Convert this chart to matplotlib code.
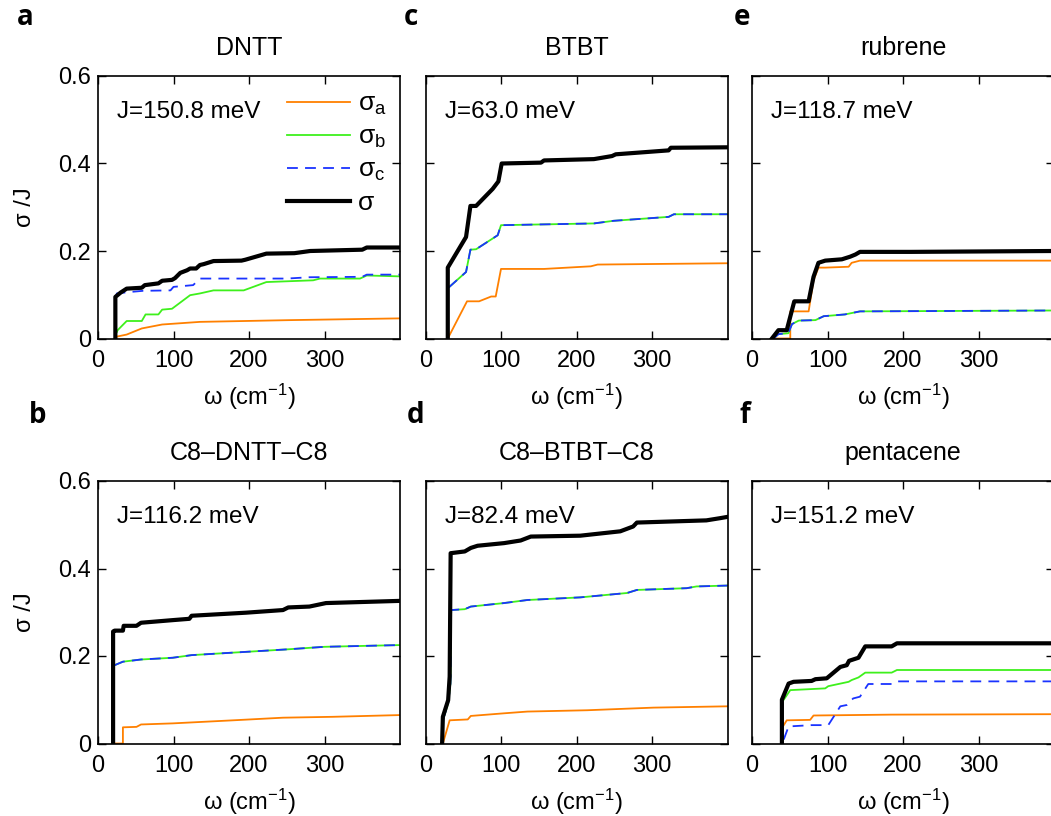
import matplotlib
matplotlib.use("Agg")
import matplotlib.pyplot as plt

plt.rcParams['font.family'] = ['Liberation Sans', 'DejaVu Sans']
plt.rcParams['mathtext.fontset'] = 'custom'
plt.rcParams['mathtext.rm'] = 'Liberation Sans'
plt.rcParams['mathtext.it'] = 'Liberation Sans:italic'
plt.rcParams['mathtext.bf'] = 'Liberation Sans:bold'

# ---------------- data ----------------
titles = ["DNTT", "C8–DNTT–C8", "BTBT", "C8–BTBT–C8", "rubrene", "pentacene"]
letters = ["a", "b", "c", "d", "e", "f"]
J_labels = ["J=150.8 meV", "J=116.2 meV", "J=63.0 meV", "J=82.4 meV", "J=118.7 meV", "J=151.2 meV"]
series_labels = ["σ$_{\\mathrm{a}}$", "σ$_{\\mathrm{b}}$", "σ$_{\\mathrm{c}}$", "σ"]
x_ticks = [0, 100, 200, 300]
y_ticks = [0, 0.2, 0.4, 0.6]
y_tick_labels = ["0", "0.2", "0.4", "0.6"]

# a: DNTT
a_sig_x = [23, 23, 30, 38, 58, 62, 80, 85, 98, 102, 109, 118, 122, 130, 135, 140, 153, 190, 195, 223, 260, 281, 350, 356, 400]
a_sig_y = [0, 0.095, 0.105, 0.114, 0.116, 0.122, 0.126, 0.132, 0.134, 0.138, 0.150, 0.156, 0.160, 0.160, 0.168, 0.170, 0.177, 0.178, 0.180, 0.194, 0.195, 0.200, 0.203, 0.208, 0.208]
a_sc_x = [24, 25, 40, 60, 96, 100, 126, 135, 250, 280, 350, 356, 400]
a_sc_y = [0.098, 0.103, 0.106, 0.109, 0.110, 0.118, 0.122, 0.137, 0.137, 0.140, 0.141, 0.146, 0.146]
a_sb_x = [25, 26, 38, 58, 63, 80, 85, 98, 122, 135, 153, 193, 223, 285, 294, 347, 356, 400]
a_sb_y = [0.015, 0.019, 0.040, 0.040, 0.055, 0.055, 0.066, 0.068, 0.099, 0.103, 0.110, 0.110, 0.129, 0.133, 0.137, 0.137, 0.144, 0.142]
a_sa_x = [24, 38, 58, 85, 135, 254, 400]
a_sa_y = [0.004, 0.009, 0.023, 0.032, 0.038, 0.042, 0.046]

# b: C8-DNTT-C8
b_sig_x = [20, 20, 22, 33, 34, 51, 57, 99, 121, 124, 196, 245, 252, 280, 302, 400]
b_sig_y = [0, 0.256, 0.258, 0.258, 0.269, 0.269, 0.276, 0.282, 0.285, 0.292, 0.299, 0.305, 0.311, 0.313, 0.321, 0.326]
b_sbc_x = [22, 33, 57, 99, 124, 201, 249, 300, 400]
b_sbc_y = [0.179, 0.187, 0.192, 0.196, 0.202, 0.210, 0.215, 0.221, 0.225]
b_sa_x = [20, 33, 33, 51, 57, 99, 179, 245, 311, 400]
b_sa_y = [0, 0, 0.037, 0.038, 0.0435, 0.046, 0.053, 0.059, 0.061, 0.065]

# c: BTBT
c_sig_x = [29.5, 29.5, 53.7, 59.5, 67, 89, 96.5, 100.9, 153, 157, 223, 247, 252, 322, 325, 400]
c_sig_y = [0, 0.162, 0.232, 0.303, 0.303, 0.342, 0.359, 0.400, 0.402, 0.407, 0.410, 0.417, 0.421, 0.430, 0.436, 0.437]
c_sbc_x = [31, 53.7, 59.5, 67, 95.6, 100, 223, 249, 322, 329, 400]
c_sbc_y = [0.117, 0.152, 0.203, 0.204, 0.236, 0.259, 0.263, 0.269, 0.278, 0.284, 0.284]
c_sa_x = [29.5, 55, 71, 87, 93, 100, 157, 219, 228, 400]
c_sa_y = [0, 0.085, 0.085, 0.096, 0.096, 0.159, 0.159, 0.165, 0.169, 0.172]

# d: C8-BTBT-C8
d_sig_x = [22, 23, 30, 32, 33.3, 52, 60, 69, 104, 126, 139.5, 205, 258, 275, 280, 372, 390, 400]
d_sig_y = [0, 0.061, 0.099, 0.153, 0.435, 0.439, 0.447, 0.452, 0.458, 0.464, 0.473, 0.475, 0.485, 0.496, 0.505, 0.510, 0.515, 0.518]
d_sbc_x = [23, 30, 33, 34, 52, 60, 104, 135, 205, 267, 280, 346, 359, 400]
d_sbc_y = [0.053, 0.092, 0.137, 0.305, 0.307, 0.313, 0.321, 0.328, 0.334, 0.344, 0.351, 0.355, 0.359, 0.361]
d_sa_x = [23, 32, 56, 60, 104, 135, 214, 302, 400]
d_sa_y = [0, 0.053, 0.055, 0.063, 0.069, 0.073, 0.076, 0.082, 0.085]

# e: rubrene
e_sig_x = [26.4, 35, 46, 51, 56, 75, 81.5, 88, 97, 119, 130, 137, 143, 211, 400]
e_sig_y = [0, 0.019, 0.019, 0.052, 0.085, 0.085, 0.141, 0.173, 0.178, 0.181, 0.187, 0.192, 0.198, 0.198, 0.200]
e_sbc_x = [28.6, 35, 48, 53, 62, 84, 95, 123, 143, 400]
e_sbc_y = [0, 0.010, 0.012, 0.033, 0.041, 0.042, 0.051, 0.055, 0.062, 0.064]
e_sa_x = [26, 50.7, 50.7, 75, 81.5, 88, 97, 128, 132, 143, 400]
e_sa_y = [0, 0, 0.062, 0.062, 0.133, 0.162, 0.162, 0.164, 0.173, 0.178, 0.178]

# f: pentacene
f_sig_x = [39.6, 39.6, 48.5, 55, 79, 84, 99, 117, 125.5, 128.6, 141, 150, 185, 192, 400]
f_sig_y = [0, 0.100, 0.137, 0.141, 0.143, 0.147, 0.149, 0.175, 0.179, 0.189, 0.196, 0.222, 0.222, 0.229, 0.229]
f_sb_x = [42, 50.7, 97, 101, 128, 132, 141, 150, 185, 192, 400]
f_sb_y = [0.100, 0.122, 0.126, 0.131, 0.141, 0.145, 0.151, 0.162, 0.162, 0.168, 0.168]
f_sc_x = [42, 48.5, 79, 101, 117, 125.5, 134, 143, 154, 185, 192, 400]
f_sc_y = [0.009, 0.039, 0.042, 0.042, 0.085, 0.088, 0.103, 0.107, 0.136, 0.136, 0.142, 0.142]
f_sa_x = [41, 46, 77, 81.5, 185, 400]
f_sa_y = [0.039, 0.053, 0.054, 0.064, 0.066, 0.067]

panels = [
    dict(sa=(a_sa_x, a_sa_y), sb=(a_sb_x, a_sb_y), sc=(a_sc_x, a_sc_y), s=(a_sig_x, a_sig_y)),
    dict(sa=(b_sa_x, b_sa_y), sb=(b_sbc_x, b_sbc_y), sc=(b_sbc_x, b_sbc_y), s=(b_sig_x, b_sig_y)),
    dict(sa=(c_sa_x, c_sa_y), sb=(c_sbc_x, c_sbc_y), sc=(c_sbc_x, c_sbc_y), s=(c_sig_x, c_sig_y)),
    dict(sa=(d_sa_x, d_sa_y), sb=(d_sbc_x, d_sbc_y), sc=(d_sbc_x, d_sbc_y), s=(d_sig_x, d_sig_y)),
    dict(sa=(e_sa_x, e_sa_y), sb=(e_sbc_x, e_sbc_y), sc=(e_sbc_x, e_sbc_y), s=(e_sig_x, e_sig_y)),
    dict(sa=(f_sa_x, f_sa_y), sb=(f_sb_x, f_sb_y), sc=(f_sc_x, f_sc_y), s=(f_sig_x, f_sig_y)),
]

# ---------------- styling / layout ----------------
W, H = 1051, 816
C_A, C_B, C_C, C_S = '#ff8000', '#3ef01c', '#1a33ff', 'black'
lefts = [98, 98, 425.5, 425.5, 752, 752]
tops = [76, 481, 76, 481, 76, 481]
AW, AH = 302, 262.5
letter_pos = [(25.5, 25), (37.5, 423), (411, 25), (415.5, 423), (742, 25), (745, 423)]

fig = plt.figure(figsize=(W / 100, H / 100), dpi=100)

for i in range(6):
    l, t = lefts[i], tops[i]
    ax = fig.add_axes([l / W, 1 - (t + AH) / H, AW / W, AH / H])
    p = panels[i]
    ax.plot(*p['sa'], color=C_A, lw=1.3, label=series_labels[0])
    ax.plot(*p['sb'], color=C_B, lw=1.3, label=series_labels[1])
    ax.plot(*p['sc'], color=C_C, lw=1.3, ls=(0, (6, 4)), label=series_labels[2])
    ax.plot(*p['s'], color=C_S, lw=3.0, label=series_labels[3])
    ax.set_xlim(0, 400)
    ax.set_ylim(0, 0.6)
    ax.set_xticks(x_ticks)
    ax.set_xticklabels([str(v) for v in x_ticks])
    ax.set_yticks(y_ticks)
    if i < 2:
        ax.set_yticklabels(y_tick_labels)
        ax.set_ylabel("σ /J", fontsize=17, labelpad=16)
    else:
        ax.set_yticklabels([])
    ax.tick_params(direction='in', top=True, right=True, length=5.5, width=1.0,
                   labelsize=17)
    ax.tick_params(axis='x', pad=8)
    ax.tick_params(axis='y', pad=5)
    for sp in ax.spines.values():
        sp.set_linewidth(1.2)
    ax.set_xlabel("ω (cm$^{\\mathrm{-1}}$)", fontsize=17, labelpad=7)
    ax.set_title(titles[i], fontsize=18, pad=15)
    ax.text(0.063, 0.862, J_labels[i], transform=ax.transAxes, fontsize=17.5,
            ha='left', va='center')
    if i == 0:
        ax.legend(loc='upper left', bbox_to_anchor=(0.625, 0.94), frameon=False,
                  fontsize=19, handlelength=2.4, handletextpad=0.3,
                  labelspacing=0.3, borderpad=0, borderaxespad=0)
    lx, ly = letter_pos[i]
    fig.text(lx / W, 1 - ly / H, letters[i], fontsize=20, fontweight='bold',
             family=['Open Sans', 'DejaVu Sans'], ha='center', va='baseline')

fig.savefig('out.png', dpi=100)
